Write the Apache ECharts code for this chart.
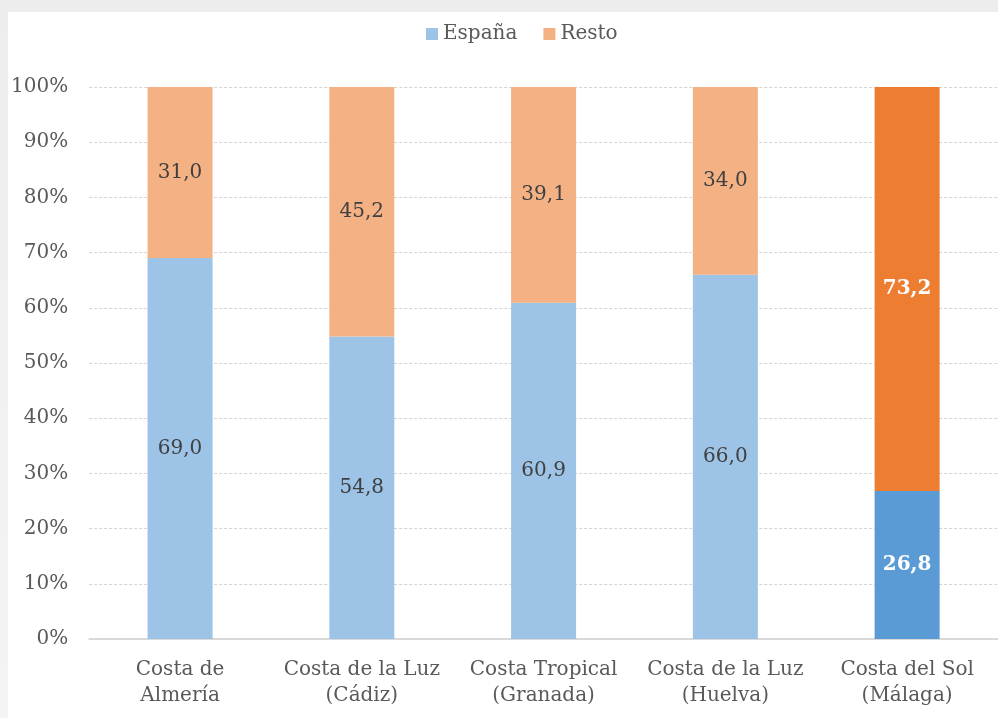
<!DOCTYPE html>
<html>
<head>
<meta charset="utf-8">
<script src="https://cdn.jsdelivr.net/npm/echarts@6/dist/echarts.min.js"></script>
<style>
  html, body { margin: 0; padding: 0; background: linear-gradient(#ededed, #f4f4f4); width: 998px; height: 718px; overflow: hidden; }
  #chart { position: absolute; left: 8px; top: 12px; width: 990px; height: 706px; background: #ffffff; }
</style>
</head>
<body>
<div id="chart"></div>
<script>
// Zonas costeras de Andalucía: reparto de turistas España / Resto
const categories = ['Costa de\nAlmería', 'Costa de la Luz\n(Cádiz)', 'Costa Tropical\n(Granada)', 'Costa de la Luz\n(Huelva)', 'Costa del Sol\n(Málaga)'];
const espana = [69.0, 54.8, 60.9, 66.0, 26.8];
const resto = [31.0, 45.2, 39.1, 34.0, 73.2];
const yTicks = [0, 10, 20, 30, 40, 50, 60, 70, 80, 90, 100];
const highlightIndex = 4;

const FONT = 'DejaVu Serif';
const FS = 20;
const fmt = v => v.toFixed(1).replace('.', ',');

function buildData(values, baseColor, strongColor) {
  return values.map((v, i) => {
    const strong = i === highlightIndex;
    return {
      value: v,
      itemStyle: { color: strong ? strongColor : baseColor },
      label: strong ? { color: '#ffffff', fontWeight: 'bold' } : {}
    };
  });
}

const chart = echarts.init(document.getElementById('chart'));
chart.setOption({
  animation: false,
  textStyle: { fontFamily: FONT },
  legend: {
    top: 7,
    left: 413,
    itemWidth: 12,
    itemHeight: 12,
    itemGap: 26,
    icon: 'rect',
    textStyle: { fontFamily: FONT, fontSize: FS, color: '#595959' },
    data: ['España', 'Resto']
  },
  grid: { left: 81, right: 0, top: 75, bottom: 79 },
  xAxis: {
    type: 'category',
    data: categories,
    axisLine: { lineStyle: { color: '#d9d9d9', width: 2 } },
    axisTick: { show: false },
    axisLabel: { interval: 0, fontFamily: FONT, fontSize: FS, color: '#595959', lineHeight: 26, margin: 18 }
  },
  yAxis: {
    type: 'value',
    min: yTicks[0],
    max: yTicks[yTicks.length - 1],
    interval: 10,
    axisLine: { show: false },
    axisTick: { show: false },
    splitLine: { lineStyle: { color: '#d4d4d4', type: [3, 2], width: 1 } },
    axisLabel: { fontFamily: FONT, fontSize: FS, color: '#595959', margin: 21, formatter: v => v + '%' }
  },
  series: [
    {
      name: 'España',
      type: 'bar',
      stack: 'total',
      barWidth: 65,
      itemStyle: { color: '#9DC3E6' },
      label: { show: true, position: 'inside', fontFamily: FONT, fontSize: FS, color: '#404040', formatter: p => fmt(p.value) },
      data: buildData(espana, '#9DC3E6', '#5B9BD5')
    },
    {
      name: 'Resto',
      type: 'bar',
      stack: 'total',
      barWidth: 65,
      itemStyle: { color: '#F4B183' },
      label: { show: true, position: 'inside', fontFamily: FONT, fontSize: FS, color: '#404040', formatter: p => fmt(p.value) },
      data: buildData(resto, '#F4B183', '#ED7D31')
    }
  ]
});
</script>
</body>
</html>
